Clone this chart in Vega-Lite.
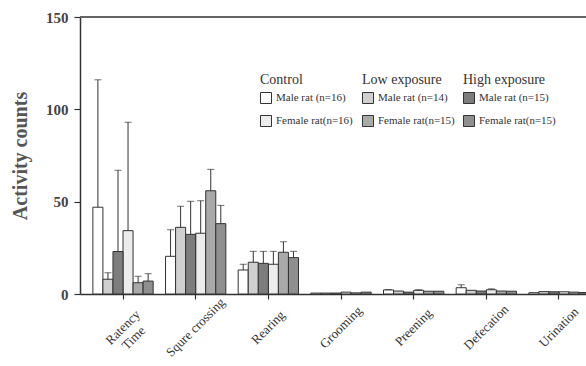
{
  "$schema": "https://vega.github.io/schema/vega-lite/v6.json",
  "width": 522,
  "height": 277,
  "autosize": {"type": "none"},
  "padding": {"left": 80, "top": 17, "right": -16, "bottom": 72},
  "background": "white",
  "config": {
    "view": {"stroke": null},
    "font": "Liberation Serif",
    "axis": {"domain": true, "domainColor": "#333", "domainWidth": 1.5, "tickColor": "#333", "tickWidth": 1.2, "labelFont": "Liberation Serif", "titleFont": "Liberation Serif", "grid": false},
    "axisY": {"labelFontSize": 15, "labelFontWeight": "bold", "labelColor": "#444", "tickSize": 6, "labelPadding": 6, "titleFontSize": 20, "titleFontWeight": "bold", "titleColor": "#555", "titlePadding": 15},
    "axisX": {"labelAngle": -45, "labelAlign": "center", "labelBaseline": "middle", "labelPadding": 28, "labelFontSize": 13, "labelColor": "#333", "tickSize": 5, "labelOverlap": false, "labelBound": false},
    "legend": {"orient": "none", "symbolType": "square", "symbolSize": 121, "symbolStrokeColor": "#333", "symbolStrokeWidth": 1, "labelFont": "Liberation Serif", "labelFontSize": 11, "labelColor": "#333", "titleFont": "Liberation Serif", "titleFontSize": 14, "titleFontWeight": "normal", "titleColor": "#333", "titlePadding": 5, "rowPadding": 7, "labelOffset": 4}
  },
  "data": {"values": [
    {"cat": "Ratency Time", "series": "CM", "sex": "M", "exp": "Control", "label": "Male rat (n=16)", "mean": 47, "upper": 116},
    {"cat": "Ratency Time", "series": "LM", "sex": "M", "exp": "Low", "label": "Male rat (n=14)", "mean": 8, "upper": 11.5},
    {"cat": "Ratency Time", "series": "HM", "sex": "M", "exp": "High", "label": "Male rat (n=15)", "mean": 23, "upper": 67},
    {"cat": "Ratency Time", "series": "CF", "sex": "F", "exp": "Control", "label": "Female rat(n=16)", "mean": 34.3, "upper": 93},
    {"cat": "Ratency Time", "series": "LF", "sex": "F", "exp": "Low", "label": "Female rat(n=15)", "mean": 6.1, "upper": 9.6},
    {"cat": "Ratency Time", "series": "HF", "sex": "F", "exp": "High", "label": "Female rat(n=15)", "mean": 7, "upper": 11},
    {"cat": "Squre crossing", "series": "CM", "sex": "M", "exp": "Control", "label": "Male rat (n=16)", "mean": 20.4, "upper": 34.8},
    {"cat": "Squre crossing", "series": "LM", "sex": "M", "exp": "Low", "label": "Male rat (n=14)", "mean": 36.1, "upper": 47.5},
    {"cat": "Squre crossing", "series": "HM", "sex": "M", "exp": "High", "label": "Male rat (n=15)", "mean": 32.3, "upper": 50.2},
    {"cat": "Squre crossing", "series": "CF", "sex": "F", "exp": "Control", "label": "Female rat(n=16)", "mean": 32.9, "upper": 50.5},
    {"cat": "Squre crossing", "series": "LF", "sex": "F", "exp": "Low", "label": "Female rat(n=15)", "mean": 55.9, "upper": 67.5},
    {"cat": "Squre crossing", "series": "HF", "sex": "F", "exp": "High", "label": "Female rat(n=15)", "mean": 38.1, "upper": 48},
    {"cat": "Rearing", "series": "CM", "sex": "M", "exp": "Control", "label": "Male rat (n=16)", "mean": 13, "upper": 16.1},
    {"cat": "Rearing", "series": "LM", "sex": "M", "exp": "Low", "label": "Male rat (n=14)", "mean": 17.2, "upper": 23.1},
    {"cat": "Rearing", "series": "HM", "sex": "M", "exp": "High", "label": "Male rat (n=15)", "mean": 16.6, "upper": 23.1},
    {"cat": "Rearing", "series": "CF", "sex": "F", "exp": "Control", "label": "Female rat(n=16)", "mean": 16.1, "upper": 23.1},
    {"cat": "Rearing", "series": "LF", "sex": "F", "exp": "Low", "label": "Female rat(n=15)", "mean": 22.6, "upper": 28.3},
    {"cat": "Rearing", "series": "HF", "sex": "F", "exp": "High", "label": "Female rat(n=15)", "mean": 19.7, "upper": 23.1},
    {"cat": "Grooming", "series": "CM", "sex": "M", "exp": "Control", "label": "Male rat (n=16)", "mean": 0.5, "upper": 0.5},
    {"cat": "Grooming", "series": "LM", "sex": "M", "exp": "Low", "label": "Male rat (n=14)", "mean": 0.5, "upper": 0.5},
    {"cat": "Grooming", "series": "HM", "sex": "M", "exp": "High", "label": "Male rat (n=15)", "mean": 0.5, "upper": 0.5},
    {"cat": "Grooming", "series": "CF", "sex": "F", "exp": "Control", "label": "Female rat(n=16)", "mean": 1, "upper": 1},
    {"cat": "Grooming", "series": "LF", "sex": "F", "exp": "Low", "label": "Female rat(n=15)", "mean": 0.6, "upper": 0.6},
    {"cat": "Grooming", "series": "HF", "sex": "F", "exp": "High", "label": "Female rat(n=15)", "mean": 1, "upper": 1},
    {"cat": "Preening", "series": "CM", "sex": "M", "exp": "Control", "label": "Male rat (n=16)", "mean": 2.2, "upper": 2.4},
    {"cat": "Preening", "series": "LM", "sex": "M", "exp": "Low", "label": "Male rat (n=14)", "mean": 1.6, "upper": 1.6},
    {"cat": "Preening", "series": "HM", "sex": "M", "exp": "High", "label": "Male rat (n=15)", "mean": 1, "upper": 1},
    {"cat": "Preening", "series": "CF", "sex": "F", "exp": "Control", "label": "Female rat(n=16)", "mean": 2, "upper": 2.3},
    {"cat": "Preening", "series": "LF", "sex": "F", "exp": "Low", "label": "Female rat(n=15)", "mean": 1.5, "upper": 1.5},
    {"cat": "Preening", "series": "HF", "sex": "F", "exp": "High", "label": "Female rat(n=15)", "mean": 1.5, "upper": 1.5},
    {"cat": "Defecation", "series": "CM", "sex": "M", "exp": "Control", "label": "Male rat (n=16)", "mean": 3.4, "upper": 5},
    {"cat": "Defecation", "series": "LM", "sex": "M", "exp": "Low", "label": "Male rat (n=14)", "mean": 2, "upper": 2},
    {"cat": "Defecation", "series": "HM", "sex": "M", "exp": "High", "label": "Male rat (n=15)", "mean": 1.6, "upper": 1.6},
    {"cat": "Defecation", "series": "CF", "sex": "F", "exp": "Control", "label": "Female rat(n=16)", "mean": 2.3, "upper": 2.8},
    {"cat": "Defecation", "series": "LF", "sex": "F", "exp": "Low", "label": "Female rat(n=15)", "mean": 1.6, "upper": 1.6},
    {"cat": "Defecation", "series": "HF", "sex": "F", "exp": "High", "label": "Female rat(n=15)", "mean": 1.5, "upper": 1.5},
    {"cat": "Urination", "series": "CM", "sex": "M", "exp": "Control", "label": "Male rat (n=16)", "mean": 0.7, "upper": 0.7},
    {"cat": "Urination", "series": "LM", "sex": "M", "exp": "Low", "label": "Male rat (n=14)", "mean": 1.3, "upper": 1.3},
    {"cat": "Urination", "series": "HM", "sex": "M", "exp": "High", "label": "Male rat (n=15)", "mean": 1.2, "upper": 1.2},
    {"cat": "Urination", "series": "CF", "sex": "F", "exp": "Control", "label": "Female rat(n=16)", "mean": 1.2, "upper": 1.2},
    {"cat": "Urination", "series": "LF", "sex": "F", "exp": "Low", "label": "Female rat(n=15)", "mean": 1, "upper": 1},
    {"cat": "Urination", "series": "HF", "sex": "F", "exp": "High", "label": "Female rat(n=15)", "mean": 0.8, "upper": 0.8}
  ]},
  "layer": [
    {
      "mark": {"type": "rule", "color": "#666", "strokeWidth": 1.5},
      "encoding": {"y": {"datum": 150, "type": "quantitative", "scale": {"domain": [0, 150], "nice": false}, "title": "Activity counts", "axis": {"values": [0, 50, 100, 150]}}}
    },
    {
      "transform": [{"filter": "datum.exp == 'Control'"}],
      "encoding": {
        "x": {"field": "cat", "type": "nominal", "sort": ["Ratency Time", "Squre crossing", "Rearing", "Grooming", "Preening", "Defecation", "Urination"], "scale": {"paddingInner": 0.17, "paddingOuter": 0.177}, "axis": {"title": null, "labelExpr": "datum.value == 'Ratency Time' ? ['Ratency', 'Time'] : datum.value"}},
        "xOffset": {"field": "series", "type": "nominal", "scale": {"domain": ["CM", "LM", "HM", "CF", "LF", "HF"], "paddingInner": 0, "paddingOuter": 0}},
        "y": {"field": "mean", "type": "quantitative", "scale": {"domain": [0, 150], "nice": false}, "title": "Activity counts", "axis": {"values": [0, 50, 100, 150]}},
        "fill": {"field": "label", "type": "nominal", "scale": {"domain": ["Male rat (n=16)", "Female rat(n=16)"], "range": ["#ffffff", "#ececec"]}, "legend": {"title": "Control", "legendX": 180, "legendY": 56, "labelFont": "Liberation Serif", "titleFont": "Liberation Serif"}}
      },
      "layer": [
        {"transform": [{"filter": "datum.sex == 'M'"}], "mark": {"type": "bar", "stroke": "#333", "strokeWidth": 1, "xOffset": -1.25}},
        {"transform": [{"filter": "datum.sex == 'F'"}], "mark": {"type": "bar", "stroke": "#333", "strokeWidth": 1, "xOffset": 1.25}}
      ]
    },
    {
      "transform": [{"filter": "datum.exp == 'Low'"}],
      "encoding": {
        "x": {"field": "cat", "type": "nominal", "sort": ["Ratency Time", "Squre crossing", "Rearing", "Grooming", "Preening", "Defecation", "Urination"], "scale": {"paddingInner": 0.17, "paddingOuter": 0.177}, "axis": {"title": null, "labelExpr": "datum.value == 'Ratency Time' ? ['Ratency', 'Time'] : datum.value"}},
        "xOffset": {"field": "series", "type": "nominal", "scale": {"domain": ["CM", "LM", "HM", "CF", "LF", "HF"], "paddingInner": 0, "paddingOuter": 0}},
        "y": {"field": "mean", "type": "quantitative", "scale": {"domain": [0, 150], "nice": false}, "title": "Activity counts", "axis": {"values": [0, 50, 100, 150]}},
        "fill": {"field": "label", "type": "nominal", "scale": {"domain": ["Male rat (n=14)", "Female rat(n=15)"], "range": ["#cfcfcf", "#a9a9a9"]}, "legend": {"title": "Low exposure", "legendX": 282, "legendY": 56, "labelFont": "Liberation Serif", "titleFont": "Liberation Serif"}}
      },
      "layer": [
        {"transform": [{"filter": "datum.sex == 'M'"}], "mark": {"type": "bar", "stroke": "#333", "strokeWidth": 1, "xOffset": -1.25}},
        {"transform": [{"filter": "datum.sex == 'F'"}], "mark": {"type": "bar", "stroke": "#333", "strokeWidth": 1, "xOffset": 1.25}}
      ]
    },
    {
      "transform": [{"filter": "datum.exp == 'High'"}],
      "encoding": {
        "x": {"field": "cat", "type": "nominal", "sort": ["Ratency Time", "Squre crossing", "Rearing", "Grooming", "Preening", "Defecation", "Urination"], "scale": {"paddingInner": 0.17, "paddingOuter": 0.177}, "axis": {"title": null, "labelExpr": "datum.value == 'Ratency Time' ? ['Ratency', 'Time'] : datum.value"}},
        "xOffset": {"field": "series", "type": "nominal", "scale": {"domain": ["CM", "LM", "HM", "CF", "LF", "HF"], "paddingInner": 0, "paddingOuter": 0}},
        "y": {"field": "mean", "type": "quantitative", "scale": {"domain": [0, 150], "nice": false}, "title": "Activity counts", "axis": {"values": [0, 50, 100, 150]}},
        "fill": {"field": "label", "type": "nominal", "scale": {"domain": ["Male rat (n=15)", "Female rat(n=15)"], "range": ["#7d7d7d", "#8f8f8f"]}, "legend": {"title": "High exposure", "legendX": 383, "legendY": 56, "labelFont": "Liberation Serif", "titleFont": "Liberation Serif"}}
      },
      "layer": [
        {"transform": [{"filter": "datum.sex == 'M'"}], "mark": {"type": "bar", "stroke": "#333", "strokeWidth": 1, "xOffset": -1.25}},
        {"transform": [{"filter": "datum.sex == 'F'"}], "mark": {"type": "bar", "stroke": "#333", "strokeWidth": 1, "xOffset": 1.25}}
      ]
    },
    {
      "encoding": {
        "x": {"field": "cat", "type": "nominal", "sort": ["Ratency Time", "Squre crossing", "Rearing", "Grooming", "Preening", "Defecation", "Urination"], "scale": {"paddingInner": 0.17, "paddingOuter": 0.177}, "axis": {"title": null, "labelExpr": "datum.value == 'Ratency Time' ? ['Ratency', 'Time'] : datum.value"}},
        "xOffset": {"field": "series", "type": "nominal", "scale": {"domain": ["CM", "LM", "HM", "CF", "LF", "HF"], "paddingInner": 0, "paddingOuter": 0}}
      },
      "layer": [
        {"transform": [{"filter": "datum.sex == 'M' && datum.upper > datum.mean"}], "mark": {"type": "rule", "color": "#333", "strokeWidth": 1, "xOffset": -1.25},
         "encoding": {"y": {"field": "mean", "type": "quantitative", "scale": {"domain": [0, 150], "nice": false}, "title": "Activity counts", "axis": {"values": [0, 50, 100, 150]}}, "y2": {"field": "upper"}}},
        {"transform": [{"filter": "datum.sex == 'F' && datum.upper > datum.mean"}], "mark": {"type": "rule", "color": "#333", "strokeWidth": 1, "xOffset": 1.25},
         "encoding": {"y": {"field": "mean", "type": "quantitative", "scale": {"domain": [0, 150], "nice": false}, "title": "Activity counts", "axis": {"values": [0, 50, 100, 150]}}, "y2": {"field": "upper"}}},
        {"transform": [{"filter": "datum.sex == 'M' && datum.upper > datum.mean"}], "mark": {"type": "tick", "color": "#333", "thickness": 1, "size": 7, "xOffset": -1.25},
         "encoding": {"y": {"field": "upper", "type": "quantitative", "scale": {"domain": [0, 150], "nice": false}, "title": "Activity counts", "axis": {"values": [0, 50, 100, 150]}}}},
        {"transform": [{"filter": "datum.sex == 'F' && datum.upper > datum.mean"}], "mark": {"type": "tick", "color": "#333", "thickness": 1, "size": 7, "xOffset": 1.25},
         "encoding": {"y": {"field": "upper", "type": "quantitative", "scale": {"domain": [0, 150], "nice": false}, "title": "Activity counts", "axis": {"values": [0, 50, 100, 150]}}}}
      ]
    }
  ],
  "resolve": {"scale": {"fill": "independent"}}
}
